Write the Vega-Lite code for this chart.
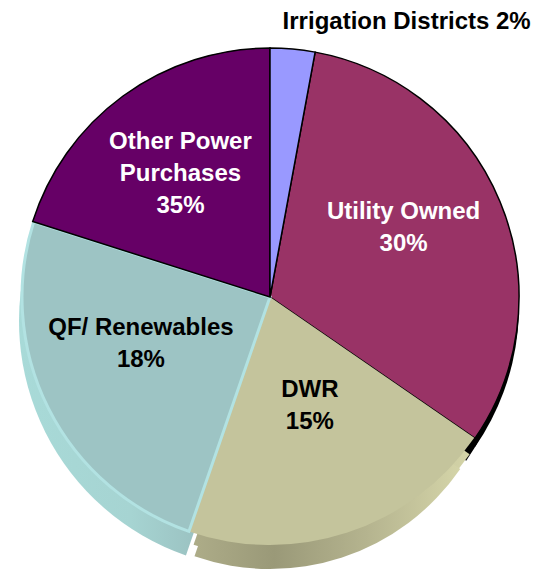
{"$schema":"https://vega.github.io/schema/vega-lite/v6.json","width":535,"height":570,"autosize":{"type":"fit","contains":"padding"},"padding":0,"background":"white","view":{"stroke":null},"config":{"text":{"font":"Liberation Sans"}},
"data":{"values":[
{"order":1,"name":"Irrigation Districts","share":2.9,"label":"Irrigation Districts 2%"},
{"order":2,"name":"Utility Owned","share":31.7,"label":"Utility Owned\n30%"},
{"order":3,"name":"DWR","share":20.7,"label":"DWR\n15%"},
{"order":4,"name":"QF/ Renewables","share":24.6,"label":"QF/ Renewables\n18%"},
{"order":5,"name":"Other Power Purchases","share":20.1,"label":"Other Power\nPurchases\n35%"}]},
"transform":[{"stack":"share","sort":[{"field":"order","order":"ascending"}],"as":["start","end"]},{"calculate":"(datum.start+datum.end)/2","as":"mid"}],
"layer":[
{"encoding":{"theta":{"field":"start","type":"quantitative","stack":null,"scale":{"domain":[0,100]}},"theta2":{"field":"end"}},
"layer":[
{"transform":[{"filter":"datum.name==='Utility Owned'"}],"mark":{"type":"arc","outerRadius":248,"fill":"#000000"},"encoding":{"x":{"value":271},"y":{"value":306}}},
{"transform":[{"filter":"datum.name==='Utility Owned'"}],"mark":{"type":"arc","outerRadius":248,"fill":"#000000"},"encoding":{"x":{"value":262},"y":{"value":320}}},
{"transform":[{"filter":"datum.name==='DWR'"}],"mark":{"type":"arc","outerRadius":240,"fill":{"gradient":"linear","x1":0,"y1":0,"x2":1,"y2":0,"stops":[{"offset":0,"color":"#ADAC88"},{"offset":0.3,"color":"#9A9978"},{"offset":0.65,"color":"#B5B48F"},{"offset":1,"color":"#D4D4A8"}]}},"encoding":{"x":{"value":272},"y":{"value":318}}},
{"transform":[{"filter":"datum.name==='DWR'"}],"mark":{"type":"arc","outerRadius":231,"fill":{"gradient":"linear","x1":0,"y1":0,"x2":1,"y2":0,"stops":[{"offset":0,"color":"#ADAC88"},{"offset":0.3,"color":"#9A9978"},{"offset":0.65,"color":"#B5B48F"},{"offset":1,"color":"#D4D4A8"}]}},"encoding":{"x":{"value":270},"y":{"value":338}}},
{"transform":[{"filter":"datum.name==='QF/ Renewables'"}],"mark":{"type":"arc","outerRadius":248,"fill":{"gradient":"linear","x1":0,"y1":0,"x2":1,"y2":0,"stops":[{"offset":0,"color":"#A8DAD8"},{"offset":0.45,"color":"#A6D4D2"},{"offset":1,"color":"#8FAFB0"}]}},"encoding":{"x":{"value":267},"y":{"value":321}}},
{"transform":[{"filter":"datum.name==='Utility Owned'"}],"mark":{"type":"arc","outerRadius":249,"fill":"#993366","stroke":"#000000","strokeWidth":1.5},"encoding":{"x":{"value":270},"y":{"value":297}}},
{"transform":[{"filter":"datum.name==='DWR'"}],"mark":{"type":"arc","outerRadius":248,"fill":"#C4C49C"},"encoding":{"x":{"value":270},"y":{"value":297}}},
{"transform":[{"filter":"datum.name==='QF/ Renewables'"}],"mark":{"type":"arc","outerRadius":248,"fill":"#9DC4C4","stroke":"#B2E2E2","strokeWidth":3},"encoding":{"x":{"value":270},"y":{"value":297}}},
{"transform":[{"filter":"datum.name==='Other Power Purchases'"}],"mark":{"type":"arc","outerRadius":249,"fill":"#660066","stroke":"#000000","strokeWidth":1.5},"encoding":{"x":{"value":270},"y":{"value":297}}},
{"transform":[{"filter":"datum.name==='Irrigation Districts'"}],"mark":{"type":"arc","outerRadius":249,"fill":"#9999FF","stroke":"#000000","strokeWidth":1.5},"encoding":{"x":{"value":270},"y":{"value":297}}}
]},
{"encoding":{"theta":{"field":"mid","type":"quantitative","stack":null,"scale":{"domain":[0,100]}},"radius":{"value":150},"text":{"field":"label"},"x":{"value":270},"y":{"value":297}},
"layer":[
{"transform":[{"filter":"datum.name==='Irrigation Districts'"}],"mark":{"type":"text","fontWeight":"bold","fontSize":24,"color":"#000000","lineBreak":"\n","lineHeight":32,"dx":123,"dy":-126}},
{"transform":[{"filter":"datum.name==='Utility Owned'"}],"mark":{"type":"text","fontWeight":"bold","fontSize":24,"color":"#ffffff","lineBreak":"\n","lineHeight":32,"dx":-5,"dy":-28}},
{"transform":[{"filter":"datum.name==='DWR'"}],"mark":{"type":"text","fontWeight":"bold","fontSize":24,"color":"#000000","lineBreak":"\n","lineHeight":32,"dx":-7,"dy":-50}},
{"transform":[{"filter":"datum.name==='QF/ Renewables'"}],"mark":{"type":"text","fontWeight":"bold","fontSize":24,"color":"#000000","lineBreak":"\n","lineHeight":32,"dx":5,"dy":-36}},
{"transform":[{"filter":"datum.name==='Other Power Purchases'"}],"mark":{"type":"text","fontWeight":"bold","fontSize":24,"color":"#ffffff","lineBreak":"\n","lineHeight":32,"dx":-1,"dy":-34}}
]}
]}
